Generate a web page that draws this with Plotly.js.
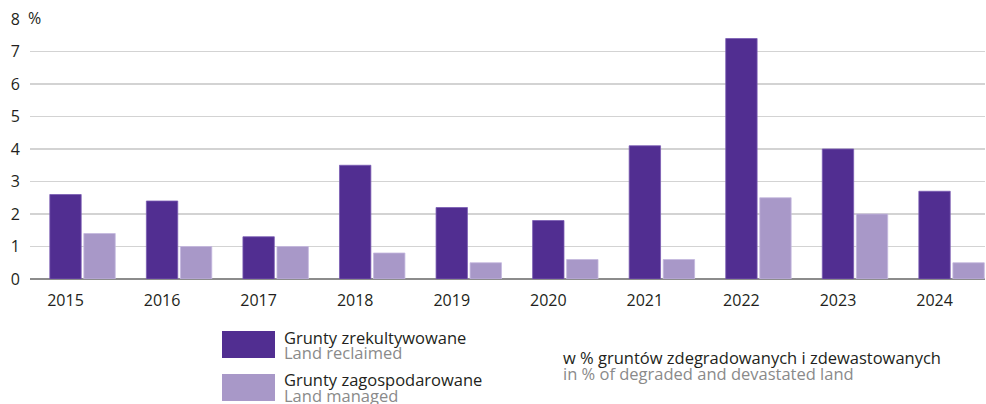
<!DOCTYPE html>
<html>
<head>
<meta charset="utf-8">
<script src="https://cdn.plot.ly/plotly-3.0.1.min.js"></script>
<style>
  html, body { margin: 0; padding: 0; background: #ffffff; }
  #chart { width: 986px; height: 404px; }
</style>
</head>
<body>
<div id="chart"></div>
<script>
// ---- data ----
const years = ['2015', '2016', '2017', '2018', '2019', '2020', '2021', '2022', '2023', '2024'];
const reclaimed = [2.6, 2.4, 1.3, 3.5, 2.2, 1.8, 4.1, 7.4, 4.0, 2.7];
const managed = [1.4, 1.0, 1.0, 0.8, 0.5, 0.6, 0.6, 2.5, 2.0, 0.5];
const seriesNamesPL = ['Grunty zrekultywowane', 'Grunty zagospodarowane'];
const seriesNamesEN = ['Land reclaimed', 'Land managed'];
const yTickVals = [0, 1, 2, 3, 4, 5, 6, 7, 8];
const yTickText = ['0', '1', '2', '3', '4', '5', '6', '7', '8'];
const unitNotePL = 'w % gruntów zdegradowanych i zdewastowanych';
const unitNoteEN = 'in % of degraded and devastated land';

const colors = ['#512e91', '#a898c8'];
const FONT = '"Open Sans", "Noto Sans", sans-serif';
const idx = years.map((_, i) => i);

const traces = [
  {
    type: 'bar', x: idx, y: reclaimed, name: seriesNamesPL[0],
    width: 0.325, offset: -0.1625,
    marker: { color: colors[0], line: { color: '#7a5cb3', width: 0.8 } },
    showlegend: false, hoverinfo: 'y'
  },
  {
    type: 'bar', x: idx, y: managed, name: seriesNamesPL[1],
    width: 0.325, offset: 0.19,
    marker: { color: colors[1], line: { color: '#c4b8de', width: 0.8 } },
    showlegend: false, hoverinfo: 'y'
  }
];

const pxPerUnitX = 96.56;
const xLeft = (30 - 65.5) / pxPerUnitX;
const xRight = (985 - 65.5) / pxPerUnitX;

const txtBlack = '#231f20';
const txtGray = '#8a8a8a';

// helpers converting page pixels to paper coords (plot area: x 30..985, y 19..279)
const px = (p) => (p - 30) / 955;
const py = (p) => (279 - p) / 260;

function label(text, xPix, yPix, color, size) {
  return {
    xref: 'paper', yref: 'paper', x: px(xPix), y: py(yPix),
    xanchor: 'left', yanchor: 'middle', showarrow: false,
    text: text, borderpad: 0,
    font: { family: FONT, size: size, color: color }
  };
}

const layout = {
  width: 986, height: 404,
  margin: { l: 30, r: 1, t: 19, b: 125 },
  paper_bgcolor: '#ffffff', plot_bgcolor: '#ffffff',
  barmode: 'overlay',
  font: { family: FONT, size: 16, color: txtBlack },
  xaxis: {
    range: [xLeft, xRight],
    tickmode: 'array', tickvals: idx, ticktext: years,
    showgrid: false, zeroline: false,
    showline: false, ticks: '', ticklabelstandoff: 10,
    tickfont: { family: FONT, size: 16, color: txtBlack },
    fixedrange: true
  },
  yaxis: {
    range: [0, 8],
    tickmode: 'array', tickvals: yTickVals, ticktext: yTickText,
    showgrid: true, gridcolor: '#d3d3d3', gridwidth: 1.8,
    zeroline: true, zerolinecolor: '#8c8c8c', zerolinewidth: 1.4,
    showline: false, ticks: '', ticklabelstandoff: 9,
    tickfont: { family: FONT, size: 16, color: txtBlack },
    fixedrange: true
  },
  yaxis2: {
    overlaying: 'y', range: [0, 8], dtick: 2, tick0: 0,
    showgrid: true, gridcolor: '#a3a3a3', gridwidth: 1.2,
    showticklabels: false, zeroline: false, showline: false, ticks: '',
    fixedrange: true
  },
  shapes: [
    { type: 'rect', xref: 'paper', yref: 'paper',
      x0: px(222), x1: px(275), y0: py(358), y1: py(331),
      fillcolor: colors[0], line: { width: 0 } },
    { type: 'rect', xref: 'paper', yref: 'paper',
      x0: px(222), x1: px(275), y0: py(401), y1: py(374),
      fillcolor: colors[1], line: { width: 0 } }
  ],
  annotations: [
    { xref: 'paper', yref: 'y', x: 0, y: 8, xanchor: 'left', yanchor: 'middle',
      xshift: -3, yshift: 1, text: '%', showarrow: false, align: 'left',
      width: 24, bgcolor: '#ffffff', borderpad: 0,
      font: { family: FONT, size: 16, color: txtBlack } },
    label(seriesNamesPL[0], 283, 337, txtBlack, 16.5),
    label(seriesNamesEN[0], 283, 353, txtGray, 16.5),
    label(seriesNamesPL[1], 283, 379, txtBlack, 16.5),
    label(seriesNamesEN[1], 283, 395, txtGray, 16.5),
    label(unitNotePL, 562, 357, txtBlack, 16.5),
    label(unitNoteEN, 562, 373, txtGray, 16.5)
  ]
};

Plotly.newPlot('chart', traces, layout, { staticPlot: true, displayModeBar: false });
</script>
</body>
</html>
